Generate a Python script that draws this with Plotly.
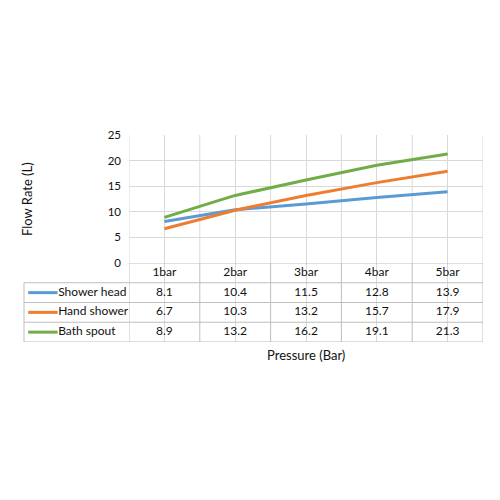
import plotly.graph_objects as go

categories = ["1bar", "2bar", "3bar", "4bar", "5bar"]
series_names = ["Shower head", "Hand shower", "Bath spout"]
shower_head = [8.1, 10.4, 11.5, 12.8, 13.9]
hand_shower = [6.7, 10.3, 13.2, 15.7, 17.9]
bath_spout = [8.9, 13.2, 16.2, 19.1, 21.3]
y_ticks = [0, 5, 10, 15, 20, 25]

series_values = [shower_head, hand_shower, bath_spout]
colors = ["#5b9bd5", "#ed7d31", "#70ad47"]
font = "Lato, Calibri, Arial, sans-serif"
text_color = "#111111"
grid_color = "#d9d9d9"
table_color = "#bfbfbf"

# pixel layout (page coords minus the 8px body margin)
off = 8
L, R, T, B = 24 - off, 483 - off, 135 - off, 342 - off
plot_left, plot_bottom = 129 - off, 263 - off
x_split = (plot_left - L) / (R - L)
y_split = (B - plot_bottom) / (B - T)

fig = go.Figure()

# chart lines
for name, vals, col in zip(series_names, series_values, colors):
    fig.add_trace(go.Scatter(
        x=categories, y=vals, mode="lines", name=name,
        line=dict(color=col, width=3), xaxis="x", yaxis="y",
        hoverinfo="x+y+name"
    ))

# data table: row 3 = header, rows 2..0 = series
fig.add_trace(go.Scatter(
    x=categories, y=[3.5] * len(categories), mode="text",
    text=categories, textfont=dict(size=12, color=text_color, family=font),
    xaxis="x", yaxis="y2", hoverinfo="skip"
))
for i, (name, vals, col) in enumerate(zip(series_names, series_values, colors)):
    row = 2.5 - i
    fig.add_trace(go.Scatter(
        x=categories, y=[row] * len(vals), mode="text",
        text=[f"{v:.1f}" for v in vals],
        textfont=dict(size=12, color=text_color, family=font),
        xaxis="x", yaxis="y2", hoverinfo="skip"
    ))
    # legend key
    fig.add_trace(go.Scatter(
        x=[0.04, 0.32], y=[row, row], mode="lines",
        line=dict(color=col, width=3), xaxis="x2", yaxis="y2", hoverinfo="skip"
    ))
    fig.add_trace(go.Scatter(
        x=[0.325], y=[row], mode="text", text=[name], textposition="middle right",
        textfont=dict(size=12, color=text_color, family=font),
        xaxis="x2", yaxis="y2", hoverinfo="skip"
    ))

shapes = []
line_t = dict(color=table_color, width=1)
bounds = [k + 0.5 for k in range(-1, len(categories))]
# category boundaries through plot area
for b in bounds:
    shapes.append(dict(type="line", xref="x", yref="paper", x0=b, x1=b, y0=y_split, y1=1,
                       line=dict(color=grid_color, width=1), layer="below"))
# horizontal table lines
for r in [0, 1, 2, 3]:
    shapes.append(dict(type="line", xref="paper", yref="y2", x0=0, x1=1, y0=r, y1=r, line=line_t))
shapes.append(dict(type="line", xref="x", yref="y2", x0=-0.5, x1=len(categories) - 0.5, y0=4, y1=4, line=line_t))
# left edge of legend column
shapes.append(dict(type="line", xref="paper", yref="y2", x0=0, x1=0, y0=0, y1=3, line=line_t))
# table vertical lines
for b in bounds:
    shapes.append(dict(type="line", xref="x", yref="y2", x0=b, x1=b, y0=0, y1=4, line=line_t))

fig.update_layout(
    width=500, height=500,
    margin=dict(l=L, r=500 - R, t=T, b=500 - B),
    paper_bgcolor="white", plot_bgcolor="white",
    showlegend=False,
    font=dict(family=font, size=12, color=text_color),
    xaxis=dict(domain=[x_split, 1], anchor="y", type="category",
               range=[-0.5, len(categories) - 0.5],
               showgrid=True, gridcolor=grid_color, gridwidth=1,
               showticklabels=False, zeroline=False, showline=False, ticks=""),
    yaxis=dict(domain=[y_split, 1], anchor="x", range=[0, 25], tickvals=y_ticks,
               showgrid=True, gridcolor=grid_color, gridwidth=1, zeroline=False,
               showline=False, ticks="", ticklabelstandoff=7,
               tickfont=dict(size=11.5, color=text_color)),
    xaxis2=dict(domain=[0, x_split], anchor="y2", range=[0, 1], visible=False),
    yaxis2=dict(domain=[0, y_split], anchor="x", range=[0, 4], visible=False),
    shapes=shapes,
    annotations=[
        dict(text="Pressure (Bar)", xref="x", yref="paper", x=2, y=0, yshift=-3,
             showarrow=False, yanchor="top",
             font=dict(size=13, color=text_color, family=font)),
        dict(text="Flow Rate (L)", xref="paper", yref="paper", x=0, y=(1 + y_split) / 2,
             xshift=3, textangle=-90, showarrow=False, xanchor="center", yanchor="middle",
             font=dict(size=13, color=text_color, family=font)),
    ],
)

fig.write_html("out.html")
